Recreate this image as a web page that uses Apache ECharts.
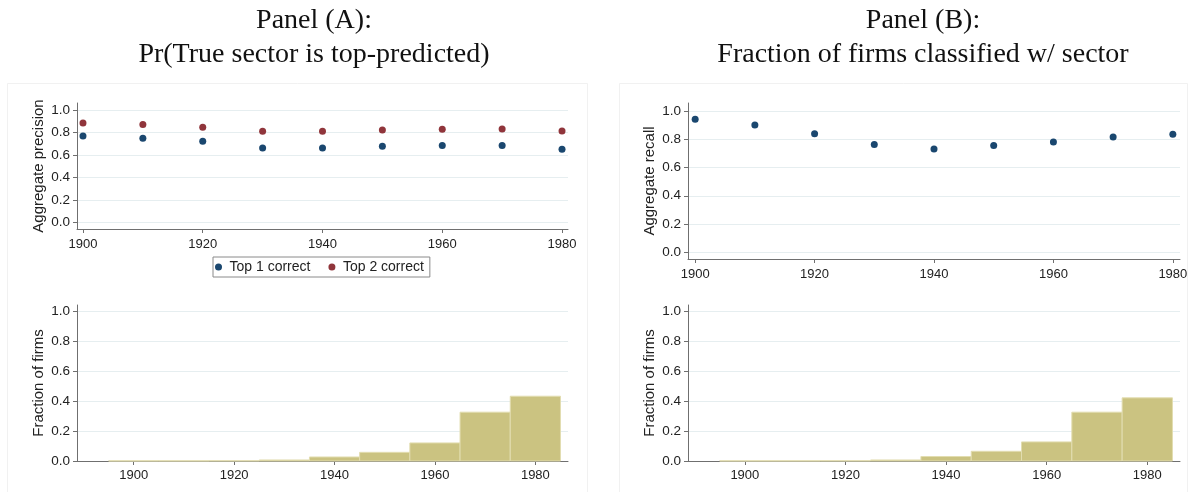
<!DOCTYPE html>
<html>
<head>
<meta charset="utf-8">
<script src="https://cdn.jsdelivr.net/npm/echarts@6/dist/echarts.min.js"></script>
<style>
  html, body { margin: 0; padding: 0; background: #fff; }
  #chart { width: 1194px; height: 492px; }
</style>
</head>
<body>
<div id="chart"></div>
<script>
// ---- data ----
const years = [1900, 1910, 1920, 1930, 1940, 1950, 1960, 1970, 1980];
const top1Correct = [0.771, 0.751, 0.724, 0.664, 0.664, 0.679, 0.685, 0.685, 0.653];
const top2Correct = [0.887, 0.873, 0.849, 0.813, 0.813, 0.825, 0.831, 0.833, 0.816];
const recall = [0.941, 0.901, 0.838, 0.763, 0.730, 0.756, 0.781, 0.816, 0.835];
const histA = [0.001, 0.001, 0.002, 0.007, 0.027, 0.058, 0.121, 0.327, 0.434];
const histB = [0.001, 0.001, 0.002, 0.007, 0.030, 0.065, 0.128, 0.327, 0.423];
const binWidth = 10;
const xTicks = [1900, 1920, 1940, 1960, 1980];
const yTicks = [0, 0.2, 0.4, 0.6, 0.8, 1.0];
const titleA = 'Panel (A):\nPr(True sector is top-predicted)';
const titleB = 'Panel (B):\nFraction of firms classified w/ sector';

// ---- styles ----
const NAVY = '#1a476f', MAROON = '#90353b', BAR = '#cbc381', BAR_EDGE = '#e2ddb0';
const AXIS = '#6f6f6f', TXT = '#222', GRID = '#e6eef0';
const FONT = '"Liberation Sans", Arial, sans-serif';

function pair(a, b) { return a.map((v, i) => [v, b[i]]); }

function xAxis(gi, min, max, margin) {
  return {
    type: 'value', gridIndex: gi, min: min, max: max,
    axisLine: { show: true, onZero: false, lineStyle: { color: AXIS, width: 1 } },
    axisTick: { show: true, length: 4, customValues: xTicks, lineStyle: { color: AXIS } },
    axisLabel: { customValues: xTicks, color: TXT, fontSize: 13, fontFamily: FONT, margin: margin,
      formatter: v => String(Math.round(v)) },
    splitLine: { show: false }
  };
}
function yAxis(gi, min, max, name) {
  return {
    type: 'value', gridIndex: gi, min: min, max: max,
    name: name, nameLocation: 'middle', nameGap: 31,
    nameTextStyle: { color: TXT, fontSize: 15, fontFamily: FONT },
    axisLine: { show: true, onZero: false, lineStyle: { color: AXIS, width: 1 } },
    axisTick: { show: true, length: 4, customValues: yTicks, lineStyle: { color: AXIS } },
    axisLabel: { customValues: yTicks, color: TXT, fontSize: 13.5, fontFamily: FONT, margin: 7,
      formatter: v => Number(v).toFixed(1) },
    splitLine: { show: true, lineStyle: { color: GRID, width: 1 } }
  };
}
function histSeries(gi, vals) {
  return {
    type: 'custom', xAxisIndex: gi, yAxisIndex: gi,
    data: pair(years, vals),
    renderItem: function (params, api) {
      const x = api.value(0), y = api.value(1);
      const p0 = api.coord([x - binWidth / 2, y]);
      const p1 = api.coord([x + binWidth / 2, 0]);
      return {
        type: 'rect',
        shape: { x: p0[0], y: p0[1], width: p1[0] - p0[0], height: p1[1] - p0[1] },
        style: { fill: BAR, stroke: BAR_EDGE, lineWidth: 1 }
      };
    },
    z: 1
  };
}

const TITLE_STYLE = { fontFamily: '"Liberation Serif", serif', fontWeight: 'normal', fontSize: 28, lineHeight: 34, color: '#111' };

const chart = echarts.init(document.getElementById('chart'), null, { renderer: 'canvas' });
chart.setOption({
  animation: false,
  backgroundColor: '#fff',
  title: [
    { text: titleA, left: 314, top: 4, textAlign: 'center', padding: 0, textStyle: TITLE_STYLE },
    { text: titleB, left: 923, top: 4, textAlign: 'center', padding: 0, textStyle: TITLE_STYLE }
  ],
  graphic: [
    { type: 'rect', shape: { x: 7.5, y: 83.5, width: 580, height: 420 }, style: { fill: null, stroke: '#f1f1f1', lineWidth: 1 }, silent: true },
    { type: 'rect', shape: { x: 619.5, y: 83.5, width: 568, height: 420 }, style: { fill: null, stroke: '#f1f1f1', lineWidth: 1 }, silent: true }
  ],
  legend: {
    data: ['Top 1 correct', 'Top 2 correct'],
    left: 213, top: 257,
    orient: 'horizontal',
    icon: 'circle', itemWidth: 12, itemHeight: 7, itemGap: 18,
    padding: [3, 6, 3, 2],
    borderColor: '#8a8a8a', borderWidth: 1, borderRadius: 0,
    textStyle: { color: TXT, fontSize: 14, fontFamily: FONT, padding: [0, 0, 0, 0] }
  },
  grid: [
    { left: 77, top: 103, width: 491, height: 126 },
    { left: 688, top: 103, width: 492, height: 156 },
    { left: 77, top: 305, width: 491, height: 156 },
    { left: 688, top: 305, width: 492, height: 156 }
  ],
  xAxis: [
    xAxis(0, 1899, 1981, 9),
    xAxis(1, 1898.8, 1981.2, 9),
    xAxis(2, 1888.7, 1986.5, 8),
    xAxis(3, 1888.7, 1986.5, 8)
  ],
  yAxis: [
    yAxis(0, -0.06, 1.065, 'Aggregate precision'),
    yAxis(1, -0.047, 1.056, 'Aggregate recall'),
    yAxis(2, 0, 1.045, 'Fraction of firms'),
    yAxis(3, 0, 1.045, 'Fraction of firms')
  ],
  series: [
    { name: 'Top 1 correct', type: 'scatter', xAxisIndex: 0, yAxisIndex: 0, data: pair(years, top1Correct),
      symbol: 'circle', symbolSize: 7, itemStyle: { color: NAVY, opacity: 1 } },
    { name: 'Top 2 correct', type: 'scatter', xAxisIndex: 0, yAxisIndex: 0, data: pair(years, top2Correct),
      symbol: 'circle', symbolSize: 7, itemStyle: { color: MAROON, opacity: 1 } },
    { name: 'Recall', type: 'scatter', xAxisIndex: 1, yAxisIndex: 1, data: pair(years, recall),
      symbol: 'circle', symbolSize: 7, itemStyle: { color: NAVY, opacity: 1 } },
    histSeries(2, histA),
    histSeries(3, histB)
  ]
});
</script>
</body>
</html>
